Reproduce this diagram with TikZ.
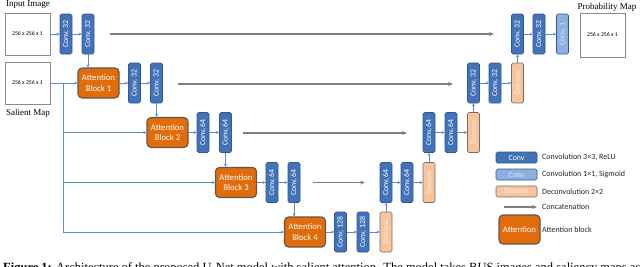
\documentclass[tikz,border=0pt]{standalone}
\usepackage{fontspec}
\setmainfont{Liberation Serif}
\newfontfamily\carl{Carlito}
\usetikzlibrary{arrows.meta}
\definecolor{convblue}{HTML}{4272B8}
\definecolor{convedge}{HTML}{2E5A94}
\definecolor{lightblue}{HTML}{8DB0E0}
\definecolor{lighttext}{HTML}{DCE8F8}
\definecolor{deconvfill}{HTML}{F8C49C}
\definecolor{deconvedge}{HTML}{6F6F6F}
\definecolor{deconvtext}{HTML}{FDEBDD}
\definecolor{attorange}{HTML}{E36C0A}
\definecolor{attedge}{HTML}{595959}
\definecolor{flowblue}{HTML}{5B8BC8}
\definecolor{concatgrey}{HTML}{808080}
\definecolor{imgedge}{HTML}{8A8A8A}
\begin{document}
\begin{tikzpicture}[x=1pt,y=-1pt,
  blk/.style={line width=0.6pt, rounded corners=1.5pt, inner sep=0pt, font=\carl\fontsize{7.8}{8}\selectfont},
  convc/.style={blk, draw=convedge, fill=convblue, text=white},
  lconvc/.style={blk, draw=convedge, fill=lightblue, text=lighttext},
  deconvc/.style={blk, draw=deconvedge, fill=deconvfill, text=deconvtext},
  vert/.style={rotate=90, minimum width=40pt, minimum height=12pt},
  leg/.style={minimum width=41pt, minimum height=11pt},
  attbox/.style={draw=attedge, fill=attorange, line width=1.1pt, rounded corners=4pt, minimum width=41pt, minimum height=30pt, inner sep=0pt, align=center, text=white, font=\carl\fontsize{8.7}{10.5}\selectfont},
  imgbox/.style={draw=imgedge, line width=0.6pt, minimum width=45pt, minimum height=42pt, inner sep=0pt, font=\carl\fontsize{5.8}{7}\selectfont},
  flow/.style={draw=flowblue, line width=0.6pt, -{Stealth[length=3pt,width=2.8pt]}},
  concat/.style={draw=concatgrey, line width=1.5pt, -{Stealth[length=5pt,width=4pt]}},
  titletext/.style={inner sep=0pt, font=\fontsize{9}{10}\selectfont},
  legtext/.style={anchor=west, inner sep=0pt, font=\carl\fontsize{8}{9}\selectfont, text=black!85}
]
\clip (0,0) rectangle (640,266);
\fill[white] (0,0) rectangle (640,266);

% inputs
\node[imgbox] (in) at (27.5,34) {256 x 256 x 1};
\node[imgbox] (sal) at (27.5,83) {256 x 256 x 1};
\node[titletext] (tin) at (28,5) {Input Image};
\node[titletext] (tsal) at (28,113) {Salient Map};

% encoder
\node[convc,vert] (c1) at (66,34) {Conv, 32};
\node[convc,vert] (c2) at (88,34) {Conv, 32};
\node[attbox] (a1) at (98.5,83) {Attention\\Block 1};
\node[convc,vert] (c3) at (134.5,83) {Conv, 32};
\node[convc,vert] (c4) at (156.5,83) {Conv, 32};
\node[attbox] (a2) at (167.5,132.5) {Attention\\Block 2};
\node[convc,vert] (c5) at (203,132.5) {Conv, 64};
\node[convc,vert] (c6) at (225.5,132.5) {Conv, 64};
\node[attbox] (a3) at (236,182.5) {Attention\\Block 3};
\node[convc,vert] (c7) at (272,182.5) {Conv, 64};
\node[convc,vert] (c8) at (294,182.5) {Conv, 64};
\node[attbox] (a4) at (305,232) {Attention\\Block 4};
\node[convc,vert] (c9) at (340.5,232) {Conv, 128};
\node[convc,vert] (c10) at (363,232) {Conv, 128};
\node[deconvc,vert] (d4) at (386,232) {Deconv};

% decoder
\node[convc,vert] (u4a) at (386,182.5) {Conv, 64};
\node[convc,vert] (u4b) at (407,182.5) {Conv, 64};
\node[deconvc,vert] (d3) at (429,182.5) {Deconv};
\node[convc,vert] (u3a) at (429,132.5) {Conv, 64};
\node[convc,vert] (u3b) at (451,132.5) {Conv, 64};
\node[deconvc,vert] (d2) at (473.5,132.5) {Deconv};
\node[convc,vert] (u2a) at (473.5,83) {Conv, 32};
\node[convc,vert] (u2b) at (495,83) {Conv, 32};
\node[deconvc,vert] (d1) at (517.5,83) {Deconv};
\node[convc,vert] (u1a) at (517.5,34) {Conv, 32};
\node[convc,vert] (u1b) at (539,34) {Conv, 32};
\node[lconvc,vert] (u1c) at (562.5,34) {Conv, 1};
\node[imgbox, minimum height=44pt] (prob) at (602.5,35) {256 x 256 x 1};
\node[titletext] (tprob) at (607,7) {Probability Map};

% thin flow arrows
\draw[flow] (in) -- (c1);
\draw[flow] (c1) -- (c2);
\draw[flow] (c2) -- (c2 |- a1.north);
\draw[flow] (sal) -- (a1);
\draw[flow] (a1) -- (c3);
\draw[flow] (c3) -- (c4);
\draw[flow] (c4) -- (c4 |- a2.north);
\draw[flow] (a2) -- (c5);
\draw[flow] (c5) -- (c6);
\draw[flow] (c6) -- (c6 |- a3.north);
\draw[flow] (a3) -- (c7);
\draw[flow] (c7) -- (c8);
\draw[flow] (c8) -- (c8 |- a4.north);
\draw[flow] (a4) -- (c9);
\draw[flow] (c9) -- (c10);
\draw[flow] (c10) -- (d4);
\draw[flow] (d4) -- (u4a);
\draw[flow] (u4a) -- (u4b);
\draw[flow] (u4b) -- (d3);
\draw[flow] (d3) -- (u3a);
\draw[flow] (u3a) -- (u3b);
\draw[flow] (u3b) -- (d2);
\draw[flow] (d2) -- (u2a);
\draw[flow] (u2a) -- (u2b);
\draw[flow] (u2b) -- (d1);
\draw[flow] (d1) -- (u1a);
\draw[flow] (u1a) -- (u1b);
\draw[flow] (u1b) -- (u1c);

% salient map trunk
\coordinate (t0) at (63,83);
\draw[flow] (t0) |- (a4);
\draw[flow] (t0 |- a2) -- (a2);
\draw[flow] (t0 |- a3) -- (a3);

% concatenations
\coordinate (k1s) at (110,34);  \coordinate (k1e) at (494,34);
\coordinate (k2s) at (178,84);  \coordinate (k2e) at (453,84);
\coordinate (k3s) at (243,133); \coordinate (k3e) at (407,133);
\coordinate (k4s) at (313,182.5); \coordinate (k4e) at (365,182.5);
\draw[concat] (k1s) -- (k1e);
\draw[concat] (k2s) -- (k2e);
\draw[concat] (k3s) -- (k3e);
\draw[concat] (k4s) -- (k4e);

% legend
\node[convc,leg] (L1) at (516.5,157.5) {Conv};
\node[lconvc,leg] (L2) at (516.5,174.5) {Conv};
\node[deconvc,leg] (L3) at (516.5,191.5) {Deconv};
\coordinate (L4s) at (504,207); \coordinate (L4e) at (537,207);
\draw[concat, line width=1.1pt] (L4s) -- (L4e);
\node[attbox, minimum height=29pt] (L5) at (519.5,229.5) {Attention};
\node[legtext] (T1) at (542,157.5) {Convolution 3×3, ReLU};
\node[legtext] (T2) at (542,174.5) {Convolution 1×1, Sigmoid};
\node[legtext] (T3) at (542,191.5) {Deconvolution 2×2};
\node[legtext] (T4) at (542,207) {Concatenation};
\node[legtext] (T5) at (542,229.5) {Attention block};

% caption (cut off by the picture edge, as in the reference)
\node[anchor=base west, inner sep=0pt, font=\fontsize{12.5}{14}\selectfont] (cap) at (3,271.5) {\textbf{Figure 1:} Architecture of the proposed U-Net model with salient attention. The model takes BUS images and saliency maps as inputs.};
\end{tikzpicture}
\end{document}
